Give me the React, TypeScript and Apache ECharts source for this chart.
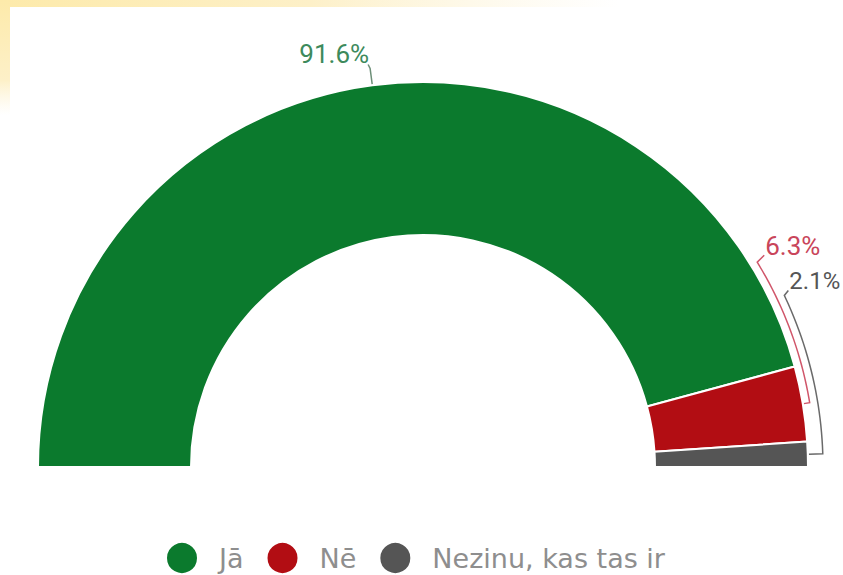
import React, { useEffect, useRef } from "react";
import * as echarts from "echarts";

// ---- data ----
const categories = ["Jā", "Nē", "Nezinu, kas tas ir"];
const values = [91.6, 6.3, 2.1];
const labelTexts = ["91.6%", "6.3%", "2.1%"];
const sliceColors = ["#0b7a2d", "#b20d13", "#555555"];
const labelColors = ["#3d8a5c", "#c9455a", "#555555"];
const lineColors = ["#6d8f78", "#d0566a", "#6a6a6a"];
const labelSizes = [26, 26, 24];

// ---- layout (not data) ----
const W = 843;
const H = 575;
const CX = 423;
const CY = 467;
const R_IN = 232;
const R_OUT = 385;
// callout bracket radius, end angle (deg), tick dx, dy
const bracketR = [402, 392, 400];
const bracketEnd = [0, 31.5, 25.4];
const tick = [[-2, -4], [7, -7], [4, -5]];

const total = values.reduce((a, b) => a + b, 0);

function polar(r: number, deg: number): number[] {
  const a = (deg * Math.PI) / 180;
  return [CX + r * Math.cos(a), CY - r * Math.sin(a)];
}

function midAngle(i: number): number {
  let cum = 0;
  for (let j = 0; j < i; j++) cum += values[j];
  return 180 - (180 * (cum + values[i] / 2)) / total;
}

export default function App() {
  const ref = useRef<HTMLDivElement>(null);

  useEffect(() => {
    if (!ref.current) return;
    const chart = echarts.init(ref.current, undefined, { renderer: "svg" });

    const data = values.map((v, i) => ({
      value: v,
      name: categories[i],
      itemStyle: { color: sliceColors[i] },
      label: { color: labelColors[i], fontSize: labelSizes[i] },
      labelLine: { lineStyle: { color: lineColors[i], width: 1.5 } },
    }));

    const option: any = {
      animation: false,
      backgroundColor: "#ffffff",
      graphic: [
        {
          type: "rect",
          silent: true,
          shape: { x: 0, y: 0, width: 620, height: 7 },
          style: {
            fill: new echarts.graphic.LinearGradient(0, 0, 1, 0, [
              { offset: 0, color: "#fdeaaa" },
              { offset: 0.5, color: "#fdf0c8" },
              { offset: 1, color: "rgba(253,245,220,0)" },
            ]),
          },
        },
        {
          type: "rect",
          silent: true,
          shape: { x: 0, y: 0, width: 10, height: 115 },
          style: {
            fill: new echarts.graphic.LinearGradient(0, 0, 0, 1, [
              { offset: 0, color: "#fdeaaa" },
              { offset: 0.7, color: "#fdf0c8" },
              { offset: 1, color: "rgba(253,245,220,0)" },
            ]),
          },
        },
      ],
      legend: {
        data: categories,
        left: 165,
        top: 541,
        padding: 0,
        icon: "circle",
        itemWidth: 32,
        itemHeight: 32,
        itemGap: 22,
        textStyle: {
          fontFamily: "DejaVu Sans",
          fontSize: 27,
          lineHeight: 32,
          color: "#8e8e8e",
          padding: [0, 0, 0, 16],
        },
        selectedMode: false,
      },
      series: [
        {
          type: "pie",
          center: [CX, CY],
          radius: [R_IN, R_OUT],
          startAngle: 180,
          endAngle: 0,
          clockwise: true,
          avoidLabelOverlap: false,
          itemStyle: { borderColor: "#ffffff", borderWidth: 2 },
          emphasis: { disabled: true },
          label: {
            show: true,
            position: "outside",
            fontFamily: "Roboto",
            fontSize: 26,
            formatter: (p: any) => labelTexts[p.dataIndex],
          },
          labelLine: { show: true, length: 10, length2: 10, smooth: false },
          labelLayout: (p: any) => {
            const i = p.dataIndex;
            const mid = midAngle(i);
            const pts: number[][] = [];
            pts.push(polar(R_OUT + 1, mid));
            pts.push(polar(bracketR[i], mid));
            if (i > 0) {
              for (let a = Math.ceil(mid); a < bracketEnd[i]; a += 1) {
                pts.push(polar(bracketR[i], a));
              }
              pts.push(polar(bracketR[i], bracketEnd[i]));
            }
            const e = pts[pts.length - 1];
            const t = [e[0] + tick[i][0], e[1] + tick[i][1]];
            pts.push(t);
            if (i === 0) {
              return {
                x: t[0] + 1,
                y: t[1] - 10,
                align: "right",
                verticalAlign: "middle",
                labelLinePoints: pts,
              };
            }
            return {
              x: t[0] + 1,
              y: t[1] - 9,
              align: "left",
              verticalAlign: "middle",
              labelLinePoints: pts,
            };
          },
          data,
        },
      ],
    };

    chart.setOption(option);
    return () => chart.dispose();
  }, []);

  return (
    <div
      ref={ref}
      style={{
        position: "fixed",
        left: 0,
        top: 0,
        width: W,
        height: H,
        background: "#ffffff",
      }}
    />
  );
}
